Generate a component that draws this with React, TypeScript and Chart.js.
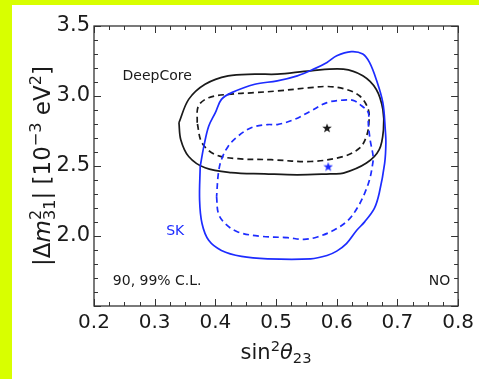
import React, { useEffect, useRef } from 'react';
import { Chart, registerables } from 'chart.js';

Chart.register(...registerables);

// ---- tick values / labels ----
const xTickValues = [0.2, 0.3, 0.4, 0.5, 0.6, 0.7, 0.8];
const xTickLabels = ['0.2', '0.3', '0.4', '0.5', '0.6', '0.7', '0.8'];
const yTickValues = [1.5, 2.0, 2.5, 3.0, 3.5];
const yTickLabels = ['', '2.0', '2.5', '3.0', '3.5'];

// ---- DeepCore 99% C.L. (solid black) ----
const dc99X = [0.340, 0.356, 0.383, 0.421, 0.465, 0.502, 0.557, 0.611, 0.643, 0.665, 0.676, 0.677, 0.670, 0.649, 0.611, 0.589, 0.535, 0.481, 0.426, 0.383, 0.356, 0.343, 0.340];
const dc99Y = [2.809, 2.976, 3.084, 3.144, 3.156, 3.156, 3.180, 3.192, 3.144, 3.048, 2.904, 2.760, 2.617, 2.521, 2.449, 2.444, 2.437, 2.444, 2.453, 2.487, 2.568, 2.688, 2.809];

// ---- DeepCore 90% C.L. (dashed black) ----
const dc90X = [0.370, 0.372, 0.389, 0.421, 0.465, 0.502, 0.557, 0.584, 0.611, 0.638, 0.652, 0.653, 0.649, 0.638, 0.611, 0.557, 0.492, 0.437, 0.400, 0.378, 0.370];
const dc90Y = [2.809, 2.928, 2.988, 3.012, 3.024, 3.036, 3.060, 3.068, 3.053, 3.000, 2.904, 2.809, 2.712, 2.629, 2.568, 2.532, 2.545, 2.552, 2.581, 2.665, 2.809];

// ---- SK 99% C.L. (solid blue) ----
const sk99X = [0.375, 0.374, 0.378, 0.389, 0.410, 0.443, 0.486, 0.557, 0.584, 0.600, 0.616, 0.633, 0.646, 0.662, 0.670, 0.679, 0.681, 0.680, 0.676, 0.665, 0.654, 0.643, 0.624, 0.600, 0.584, 0.562, 0.535, 0.502, 0.465, 0.427, 0.410, 0.400, 0.389, 0.381, 0.375];
const sk99Y = [2.496, 2.257, 2.089, 1.969, 1.897, 1.854, 1.837, 1.837, 1.861, 1.892, 1.945, 2.041, 2.101, 2.197, 2.305, 2.521, 2.665, 2.760, 2.953, 3.120, 3.240, 3.300, 3.317, 3.288, 3.240, 3.192, 3.144, 3.108, 3.084, 3.024, 2.976, 2.881, 2.784, 2.640, 2.496];

// ---- SK 90% C.L. (dashed blue) ----
const sk90X = [0.402, 0.405, 0.416, 0.437, 0.475, 0.519, 0.546, 0.568, 0.595, 0.619, 0.635, 0.646, 0.654, 0.659, 0.660, 0.655, 0.652, 0.652, 0.638, 0.627, 0.611, 0.584, 0.557, 0.530, 0.502, 0.486, 0.459, 0.437, 0.421, 0.410, 0.405, 0.402];
const sk90Y = [2.281, 2.161, 2.089, 2.029, 1.998, 1.988, 1.976, 1.993, 2.041, 2.113, 2.209, 2.305, 2.401, 2.509, 2.568, 2.688, 2.809, 2.881, 2.940, 2.969, 2.971, 2.953, 2.892, 2.832, 2.796, 2.796, 2.773, 2.712, 2.640, 2.545, 2.449, 2.281];

// ---- best fit points ----
const dcBestX = [0.584];
const dcBestY = [2.772];
const skBestX = [0.586];
const skBestY = [2.496];

// ---- annotations ----
const annotationTexts = ['DeepCore', 'SK', '90, 99% C.L.', 'NO'];
const annotationX = [0.247, 0.319, 0.231, 0.787];
const annotationY = [3.14, 2.033, 1.676, 1.676];

const BLACK = '#1a1a1a';
const BLUE = '#1d2cff';
const FONT = '"DejaVu Sans", "Liberation Sans", sans-serif';

const toPoints = (xs: number[], ys: number[]) => xs.map((x, i) => ({ x, y: ys[i] }));

function makeStar(color: string, size: number): HTMLCanvasElement {
  const c = document.createElement('canvas');
  c.width = size;
  c.height = size;
  const g = c.getContext('2d')!;
  const cx = size / 2, cy = size / 2 + 0.4;
  const R = size / 2, r = R * 0.42;
  g.beginPath();
  for (let i = 0; i < 10; i++) {
    const rad = i % 2 === 0 ? R : r;
    const a = -Math.PI / 2 + (i * Math.PI) / 5;
    const px = cx + rad * Math.cos(a);
    const py = cy + rad * Math.sin(a);
    if (i === 0) g.moveTo(px, py); else g.lineTo(px, py);
  }
  g.closePath();
  g.fillStyle = color;
  g.fill();
  return c;
}

type Seg = { t: string; it?: boolean; sc?: 'sup' | 'sub'; stack?: boolean };

function segFont(s: Seg, size: number) {
  const fs = s.sc ? size * 0.7 : size;
  return `${s.it ? 'italic ' : ''}${fs}px ${FONT}`;
}

function richWidth(ctx: CanvasRenderingContext2D, segs: Seg[], size: number) {
  let w = 0;
  let pending = 0;
  segs.forEach((s) => {
    ctx.font = segFont(s, size);
    const sw = ctx.measureText(s.t).width;
    if (s.stack) {
      pending = sw;
    } else {
      w += Math.max(sw, pending);
      pending = 0;
    }
  });
  return w;
}

function drawRich(ctx: CanvasRenderingContext2D, segs: Seg[], size: number) {
  const total = richWidth(ctx, segs, size);
  let x = -total / 2;
  let pending = 0;
  ctx.textAlign = 'left';
  ctx.textBaseline = 'alphabetic';
  segs.forEach((s) => {
    ctx.font = segFont(s, size);
    const sw = ctx.measureText(s.t).width;
    const dy = s.sc === 'sup' ? -0.37 * size : s.sc === 'sub' ? 0.2 * size : 0;
    ctx.fillText(s.t, x, dy);
    if (s.stack) {
      pending = sw;
    } else {
      x += Math.max(sw, pending);
      pending = 0;
    }
  });
}

const xTitle: Seg[] = [{ t: 'sin' }, { t: '2', sc: 'sup' }, { t: 'θ', it: true }, { t: '23', sc: 'sub' }];
const yTitle: Seg[] = [
  { t: '|' }, { t: 'Δ' }, { t: 'm', it: true }, { t: '2', sc: 'sup', stack: true }, { t: '31', sc: 'sub' },
  { t: '|' }, { t: ' [10' }, { t: '−3', sc: 'sup' }, { t: ' eV' }, { t: '2', sc: 'sup' }, { t: ']' },
];

const framePlugin = {
  id: 'frameTicks',
  afterDraw(chart: any) {
    const { ctx, chartArea: a, scales } = chart;
    const xs = scales.x, ys = scales.y;
    ctx.save();
    ctx.strokeStyle = '#333';
    ctx.lineWidth = 1;
    // minor / major ticks, inward on all four sides
    const major = 7, minor = 4;
    ctx.beginPath();
    for (let i = 0; i <= 24; i++) {
      const v = 0.2 + i * 0.025;
      const px = Math.round(xs.getPixelForValue(v)) + 0.5;
      const len = i % 4 === 0 ? major : minor;
      ctx.moveTo(px, a.bottom);
      ctx.lineTo(px, a.bottom - len);
      ctx.moveTo(px, a.top);
      ctx.lineTo(px, a.top + len);
    }
    for (let i = 0; i <= 20; i++) {
      const v = 1.5 + i * 0.1;
      const py = Math.round(ys.getPixelForValue(v)) + 0.5;
      const len = i % 5 === 0 ? major : minor;
      ctx.moveTo(a.left, py);
      ctx.lineTo(a.left + len, py);
      ctx.moveTo(a.right, py);
      ctx.lineTo(a.right - len, py);
    }
    ctx.stroke();
    ctx.lineWidth = 1.3;
    ctx.strokeRect(a.left, a.top, a.right - a.left, a.bottom - a.top);

    // annotations
    ctx.font = `14px ${FONT}`;
    ctx.textBaseline = 'middle';
    annotationTexts.forEach((t, i) => {
      ctx.fillStyle = t === 'SK' ? BLUE : BLACK;
      ctx.textAlign = t === 'NO' ? 'right' : 'left';
      ctx.fillText(t, xs.getPixelForValue(annotationX[i]), ys.getPixelForValue(annotationY[i]));
    });

    // axis titles
    ctx.fillStyle = BLACK;
    ctx.save();
    ctx.translate((a.left + a.right) / 2, 354);
    drawRich(ctx, xTitle, 21);
    ctx.restore();

    ctx.save();
    ctx.translate(38, (a.top + a.bottom) / 2);
    ctx.rotate(-Math.PI / 2);
    drawRich(ctx, yTitle, 23);
    ctx.restore();
    ctx.restore();
  },
};

export default function App() {
  const ref = useRef<HTMLCanvasElement | null>(null);
  useEffect(() => {
    if (!ref.current) return;
    Chart.defaults.font.family = FONT;
    const line = (xs: number[], ys: number[], color: string, dashed: boolean) => ({
      data: toPoints(xs, ys),
      showLine: true,
      borderColor: color,
      backgroundColor: color,
      borderWidth: 1.7,
      borderDash: dashed ? [6, 4] : [],
      pointRadius: 0,
      tension: 0.35,
      fill: false,
    });
    const chart = new Chart(ref.current, {
      type: 'scatter',
      data: {
        datasets: [
          line(sk99X, sk99Y, BLUE, false),
          line(sk90X, sk90Y, BLUE, true),
          line(dc99X, dc99Y, BLACK, false),
          line(dc90X, dc90Y, BLACK, true),
          {
            data: toPoints(dcBestX, dcBestY),
            pointStyle: makeStar(BLACK, 10) as any,
            pointRadius: 5,
            showLine: false,
          },
          {
            data: toPoints(skBestX, skBestY),
            pointStyle: makeStar(BLUE, 10) as any,
            pointRadius: 5,
            showLine: false,
          },
        ] as any,
      },
      options: {
        responsive: false,
        animation: false,
        layout: { padding: { top: 21, right: 16, left: 0, bottom: 0 } },
        plugins: { legend: { display: false }, tooltip: { enabled: false } },
        scales: {
          x: {
            type: 'linear',
            min: 0.2,
            max: 0.8,
            afterFit: (s: any) => { s.height = 73; },
            afterBuildTicks: (s: any) => { s.ticks = xTickValues.map((v) => ({ value: v })); },
            ticks: {
              callback: (_v: any, i: number) => xTickLabels[i],
              font: { family: FONT, size: 20 },
              color: BLACK,
              padding: 5,
              maxRotation: 0,
              autoSkip: false,
            },
            grid: { display: false, drawTicks: false },
            border: { display: false },
          },
          y: {
            type: 'linear',
            min: 1.5,
            max: 3.5,
            afterFit: (s: any) => { s.width = 82; },
            afterBuildTicks: (s: any) => { s.ticks = yTickValues.map((v) => ({ value: v })); },
            ticks: {
              callback: (_v: any, i: number) => yTickLabels[i],
              font: { family: FONT, size: 21 },
              color: BLACK,
              padding: 4,
              autoSkip: false,
            },
            grid: { display: false, drawTicks: false },
            border: { display: false },
          },
        },
      } as any,
      plugins: [framePlugin],
    });
    return () => chart.destroy();
  }, []);

  return (
    <div style={{ position: 'fixed', left: 0, top: 0, width: '100vw', height: '100vh', background: '#d8ff00' }}>
      <canvas
        ref={ref}
        width={467}
        height={374}
        style={{ position: 'absolute', left: 12, top: 5, width: 467, height: 374, background: '#ffffff' }}
      />
    </div>
  );
}
